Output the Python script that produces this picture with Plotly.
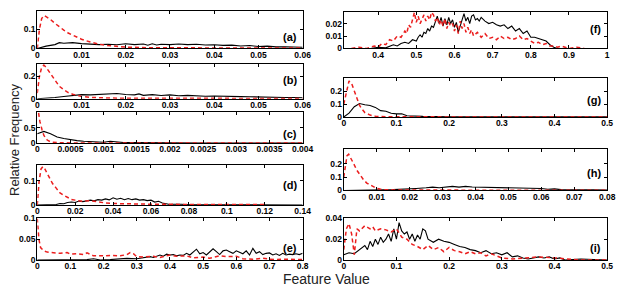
import plotly.graph_objects as go

# ---------------- data (x, relative frequency) ----------------
a_black = [(0,0),(0.002,0.012),(0.004,0.02),(0.005,0.03),(0.006,0.027),(0.008,0.03),(0.010,0.025),(0.012,0.022),
           (0.014,0.02),(0.016,0.022),(0.018,0.019),(0.020,0.024),(0.022,0.02),(0.024,0.023),(0.025,0.017),(0.026,0.024),
           (0.027,0.018),(0.028,0.022),(0.030,0.02),(0.032,0.023),(0.034,0.02),(0.036,0.022),(0.038,0.018),(0.040,0.019),
           (0.042,0.016),(0.044,0.017),(0.046,0.013),(0.048,0.015),(0.050,0.01),(0.052,0.012),(0.054,0.008),(0.056,0.009),
           (0.058,0.006),(0.060,0.006)]
a_red = [(0,0),(0.0005,0.10),(0.001,0.155),(0.0015,0.17),(0.002,0.165),(0.003,0.15),(0.004,0.13),(0.005,0.11),
         (0.006,0.095),(0.007,0.08),(0.008,0.068),(0.009,0.057),(0.010,0.048),(0.012,0.033),(0.014,0.022),(0.016,0.015),
         (0.018,0.010),(0.020,0.007),(0.025,0.004),(0.030,0.003),(0.040,0.002),(0.050,0.002),(0.060,0.002)]

b_black = [(0,0),(0.002,0.002),(0.004,0.01),(0.006,0.02),(0.008,0.026),(0.010,0.036),(0.012,0.034),(0.014,0.036),
           (0.016,0.042),(0.018,0.046),(0.020,0.038),(0.022,0.034),(0.023,0.043),(0.024,0.03),(0.026,0.036),(0.028,0.029),
           (0.030,0.034),(0.032,0.026),(0.034,0.03),(0.036,0.024),(0.038,0.022),(0.040,0.024),(0.042,0.02),(0.044,0.022),
           (0.046,0.018),(0.048,0.017),(0.050,0.014),(0.052,0.016),(0.054,0.012),(0.056,0.011),(0.058,0.01),(0.060,0.008)]
b_red = [(0,0.05),(0.0005,0.2),(0.001,0.28),(0.0015,0.3),(0.002,0.28),(0.003,0.22),(0.004,0.16),(0.005,0.11),
         (0.006,0.08),(0.007,0.055),(0.008,0.04),(0.009,0.03),(0.010,0.02),(0.012,0.012),(0.014,0.008),(0.016,0.006),
         (0.020,0.004),(0.030,0.003),(0.040,0.002),(0.050,0.002),(0.060,0.002)]

c_black = [(0,0.3),(0.0001,0.38),(0.0002,0.3),(0.0003,0.2),(0.0004,0.15),(0.0005,0.11),(0.0006,0.08),(0.0007,0.06),
           (0.0008,0.045),(0.0009,0.03),(0.001,0.03),(0.0011,0.06),(0.0012,0.04),(0.0013,0.02),(0.0015,0.015),
           (0.0017,0.01),(0.002,0.008),(0.0025,0.005),(0.003,0.003),(0.0035,0.002),(0.004,0.001)]
c_red = [(0.00002,0.98),(0.00004,0.7),(0.00007,0.45),(0.0001,0.25),(0.00015,0.1),(0.0002,0.04),(0.0003,0.015),
         (0.0004,0.008),(0.0006,0.004),(0.001,0.002),(0.002,0.001),(0.003,0),(0.004,0)]

d_black = [(0,0),(0.005,0),(0.010,0.002),(0.012,0.006),(0.014,0.005),(0.016,0.01),(0.018,0.012),(0.020,0.01),
           (0.022,0.016),(0.024,0.014),(0.026,0.018),(0.028,0.02),(0.030,0.017),(0.032,0.022),(0.034,0.02),(0.036,0.025),
           (0.038,0.021),(0.040,0.03),(0.042,0.024),(0.044,0.028),(0.046,0.022),(0.048,0.027),(0.050,0.022),(0.052,0.025),
           (0.054,0.02),(0.056,0.022),(0.058,0.018),(0.060,0.02),(0.062,0.012),(0.064,0.015),(0.066,0.008),(0.068,0.004),
           (0.070,0.002),(0.072,0.003),(0.074,0.004),(0.076,0.003),(0.078,0.002),(0.080,0.001),(0.090,0.0005),(0.100,0),(0.140,0)]
d_red = [(0,0),(0.001,0.1),(0.002,0.15),(0.003,0.16),(0.004,0.15),(0.006,0.12),(0.008,0.09),(0.010,0.07),(0.012,0.05),
         (0.014,0.04),(0.016,0.03),(0.018,0.023),(0.020,0.02),(0.024,0.015),(0.028,0.018),(0.032,0.012),(0.036,0.008),
         (0.040,0.006),(0.050,0.004),(0.060,0.003),(0.080,0.002),(0.100,0.002),(0.120,0.002)]

e_black = [(0,0),(0.10,0),(0.15,0.001),(0.17,0.003),(0.19,0),(0.22,0.001),(0.25,0.002),(0.27,0.004),(0.30,0.003),
           (0.32,0.005),(0.34,0.008),(0.35,0.006),(0.36,0.01),(0.37,0.012),(0.38,0.009),(0.39,0.014),(0.40,0.012),
           (0.41,0.013),(0.42,0.01),(0.43,0.012),(0.44,0.011),(0.45,0.016),(0.46,0.012),(0.47,0.018),(0.48,0.026),
           (0.49,0.015),(0.50,0.018),(0.51,0.012),(0.52,0.02),(0.53,0.027),(0.54,0.02),(0.55,0.013),(0.56,0.022),
           (0.57,0.024),(0.58,0.02),(0.59,0.016),(0.60,0.022),(0.61,0.018),(0.62,0.015),(0.63,0.022),(0.64,0.012),
           (0.65,0.028),(0.66,0.016),(0.67,0.02),(0.68,0.013),(0.69,0.016),(0.70,0.017),(0.71,0.012),(0.72,0.015),
           (0.73,0.011),(0.74,0.016),(0.75,0.012),(0.76,0.014),(0.77,0.013),(0.78,0.015),(0.79,0.013),(0.80,0.016)]
e_red = [(0,0.1),(0.005,0.05),(0.01,0.03),(0.02,0.022),(0.03,0.019),(0.05,0.018),(0.07,0.016),(0.09,0.018),(0.10,0.014),
         (0.12,0.015),(0.14,0.013),(0.15,0.017),(0.17,0.01),(0.20,0.01),(0.22,0.011),(0.25,0.01),(0.27,0.013),(0.28,0.018),
         (0.29,0.015),(0.30,0.008),(0.32,0.007),(0.35,0.009),(0.37,0.006),(0.40,0.012),(0.42,0.009),(0.45,0.01),
         (0.47,0.005),(0.50,0.007),(0.52,0.004),(0.55,0.01),(0.57,0.008),(0.60,0.009),(0.62,0.003),(0.65,0.002),
         (0.68,0.004),(0.70,0.002),(0.72,0.001),(0.75,0.002),(0.78,0.001),(0.80,0.001)]

f_black = [(0.38,0),(0.40,0.001),(0.42,0.0005),(0.43,0.002),(0.44,0.003),(0.45,0.002),(0.46,0.004),(0.47,0.005),
           (0.48,0.004),(0.49,0.007),(0.50,0.006),(0.505,0.009),(0.51,0.011),(0.515,0.009),(0.52,0.013),(0.525,0.012),
           (0.53,0.016),(0.535,0.014),(0.54,0.018),(0.545,0.017),(0.55,0.022),(0.555,0.026),(0.56,0.02),(0.565,0.025),
           (0.57,0.018),(0.575,0.024),(0.58,0.019),(0.585,0.025),(0.59,0.02),(0.595,0.023),(0.60,0.017),(0.605,0.021),
           (0.61,0.013),(0.615,0.019),(0.62,0.023),(0.625,0.028),(0.63,0.022),(0.635,0.025),(0.64,0.02),(0.645,0.026),
           (0.65,0.027),(0.655,0.023),(0.66,0.024),(0.665,0.022),(0.67,0.025),(0.68,0.022),(0.69,0.02),(0.70,0.021),
           (0.71,0.019),(0.72,0.018),(0.73,0.019),(0.74,0.016),(0.75,0.018),(0.76,0.014),(0.77,0.016),(0.78,0.012),
           (0.79,0.014),(0.80,0.009),(0.81,0.009),(0.82,0.008),(0.83,0.007),(0.84,0.006),(0.85,0.003),(0.86,0.001),
           (0.87,0),(0.90,0)]
f_red = [(0.33,0),(0.35,0.001),(0.37,0),(0.39,0.002),(0.40,0.001),(0.41,0.004),(0.42,0.003),(0.43,0.007),(0.44,0.006),
         (0.45,0.01),(0.46,0.009),(0.47,0.014),(0.475,0.012),(0.48,0.019),(0.485,0.017),(0.49,0.024),(0.495,0.029),
         (0.50,0.021),(0.505,0.026),(0.51,0.02),(0.515,0.024),(0.52,0.027),(0.525,0.022),(0.53,0.026),(0.535,0.023),
         (0.54,0.029),(0.545,0.027),(0.55,0.022),(0.555,0.025),(0.56,0.019),(0.565,0.023),(0.57,0.018),(0.575,0.024),
         (0.58,0.016),(0.585,0.021),(0.59,0.018),(0.595,0.02),(0.60,0.014),(0.605,0.019),(0.61,0.012),(0.615,0.022),
         (0.62,0.016),(0.625,0.02),(0.63,0.013),(0.635,0.017),(0.64,0.012),(0.645,0.015),(0.65,0.01),(0.66,0.013),
         (0.67,0.009),(0.68,0.012),(0.69,0.008),(0.70,0.009),(0.71,0.007),(0.72,0.01),(0.73,0.008),(0.74,0.009),
         (0.75,0.007),(0.76,0.008),(0.77,0.01),(0.78,0.007),(0.79,0.008),(0.80,0.006),(0.81,0.004),(0.82,0.005),
         (0.83,0.003),(0.84,0.004),(0.85,0.002),(0.86,0.002),(0.87,0.001),(0.88,0.002),(0.89,0.001),(0.90,0),
         (0.92,0.001),(0.94,0)]

g_black = [(0,0),(0.01,0.03),(0.02,0.08),(0.03,0.105),(0.04,0.095),(0.05,0.09),(0.06,0.075),(0.07,0.05),(0.08,0.045),
           (0.09,0.03),(0.10,0.025),(0.11,0.025),(0.12,0.01),(0.13,0.008),(0.15,0.005),(0.20,0.002),(0.30,0.001),(0.50,0.001)]
g_red = [(0,0.1),(0.005,0.2),(0.01,0.28),(0.015,0.26),(0.02,0.2),(0.025,0.14),(0.03,0.09),(0.035,0.06),(0.04,0.035),
         (0.05,0.015),(0.06,0.006),(0.08,0.003),(0.10,0.002),(0.20,0.001),(0.50,0.001)]

h_black = [(0,0),(0.010,0),(0.012,0.004),(0.015,0.006),(0.018,0.008),(0.020,0.012),(0.022,0.015),(0.025,0.02),
           (0.027,0.025),(0.029,0.02),(0.031,0.027),(0.033,0.03),(0.035,0.025),(0.037,0.03),(0.039,0.026),(0.041,0.025),
           (0.043,0.022),(0.045,0.023),(0.048,0.018),(0.050,0.019),(0.053,0.016),(0.056,0.015),(0.058,0.012),(0.060,0.014),
           (0.062,0.009),(0.064,0.012),(0.066,0.006),(0.068,0.007),(0.070,0.004),(0.073,0.005),(0.076,0.004),(0.080,0.003)]
h_red = [(0,0.1),(0.0005,0.2),(0.001,0.26),(0.0015,0.27),(0.002,0.25),(0.003,0.2),(0.004,0.15),(0.005,0.11),
         (0.006,0.08),(0.007,0.055),(0.008,0.04),(0.009,0.025),(0.010,0.015),(0.011,0.01),(0.012,0.006),(0.015,0.004),
         (0.020,0.003),(0.040,0.002),(0.080,0.002)]

i_black = [(0,0.005),(0.01,0.007),(0.02,0.006),(0.03,0.01),(0.04,0.014),(0.045,0.01),(0.05,0.018),(0.055,0.013),
           (0.06,0.02),(0.065,0.015),(0.07,0.022),(0.075,0.017),(0.08,0.02),(0.085,0.025),(0.09,0.018),(0.095,0.03),
           (0.10,0.02),(0.105,0.036),(0.11,0.028),(0.115,0.025),(0.12,0.027),(0.125,0.02),(0.13,0.025),(0.135,0.018),
           (0.14,0.024),(0.145,0.02),(0.15,0.03),(0.155,0.028),(0.16,0.02),(0.17,0.017),(0.18,0.02),(0.19,0.018),
           (0.20,0.017),(0.21,0.015),(0.22,0.013),(0.23,0.012),(0.24,0.01),(0.25,0.009),(0.26,0.007),(0.27,0.009),
           (0.28,0.006),(0.29,0.007),(0.30,0.005),(0.31,0.007),(0.32,0.003),(0.33,0.004),(0.34,0.002),(0.35,0.001),
           (0.36,0.002),(0.37,0.003),(0.38,0.002),(0.39,0.003),(0.40,0.001),(0.41,0.002),(0.42,0),(0.45,0.001),(0.50,0)]
i_red = [(0,0.01),(0.005,0.03),(0.01,0.035),(0.015,0.025),(0.02,0.005),(0.025,0.03),(0.03,0.028),(0.04,0.033),
         (0.05,0.03),(0.055,0.032),(0.06,0.028),(0.07,0.03),(0.08,0.029),(0.09,0.027),(0.10,0.03),(0.11,0.022),
         (0.12,0.02),(0.13,0.015),(0.14,0.013),(0.15,0.01),(0.16,0.014),(0.17,0.01),(0.18,0.012),(0.19,0.008),
         (0.20,0.012),(0.21,0.009),(0.22,0.008),(0.23,0.006),(0.24,0.008),(0.25,0.006),(0.26,0.007),(0.27,0.004),
         (0.28,0.006),(0.29,0.004),(0.30,0.002),(0.32,0.001),(0.35,0.002),(0.37,0.003),(0.40,0.002),(0.42,0.001),
         (0.45,0),(0.50,0)]

panel_names = ["(a)", "(b)", "(c)", "(d)", "(e)", "(f)", "(g)", "(h)", "(i)"]
x_ranges = [[0, 0.06], [0, 0.06], [0, 0.004], [0, 0.14], [0, 0.8], [0.31, 1], [0, 0.5], [0, 0.08], [0, 0.5]]
y_ranges = [[0, 0.195], [0, 0.31], [0, 1.0], [0, 0.165], [0, 0.1], [0, 0.0295], [0, 0.3], [0, 0.31], [0, 0.04]]
x_ticks = [
    ["0", "0.01", "0.02", "0.03", "0.04", "0.05", "0.06"],
    ["0", "0.01", "0.02", "0.03", "0.04", "0.05", "0.06"],
    ["0", "0.0005", "0.001", "0.0015", "0.002", "0.0025", "0.003", "0.0035", "0.004"],
    ["0", "0.02", "0.04", "0.06", "0.08", "0.1", "0.12", "0.14"],
    ["0", "0.1", "0.2", "0.3", "0.4", "0.5", "0.6", "0.7", "0.8"],
    ["0.4", "0.5", "0.6", "0.7", "0.8", "0.9", "1"],
    ["0", "0.1", "0.2", "0.3", "0.4", "0.5"],
    ["0", "0.01", "0.02", "0.03", "0.04", "0.05", "0.06", "0.07", "0.08"],
    ["0", "0.1", "0.2", "0.3", "0.4", "0.5"],
]
y_ticks = [
    ["0", "0.1"], ["0", "0.2"], ["0", "0.5"], ["0", "0.1"], ["0", "0.05", "0.1"],
    ["0", "0.01", "0.02"], ["0", "0.1", "0.2"], ["0", "0.1", "0.2"], ["0", "0.02", "0.04"],
]
series_black = [a_black, b_black, c_black, d_black, e_black, f_black, g_black, h_black, i_black]
series_red = [a_red, b_red, c_red, d_red, e_red, f_red, g_red, h_red, i_red]

# ---------------- layout geometry (pixels) ----------------
W, H = 626, 293
left_col = (36, 307)
right_col = (349, 618)
boxes_y = [(6, 45), (61, 97), (111, 143), (166, 207), (221, 264),
           (7, 45), (76, 116), (149, 192), (221, 264)]
label_frac = [0.70, 0.46, 0.72, 0.49, 0.70, 0.47, 0.57, 0.57, 0.71]

fig = go.Figure()
tickfont = dict(family="Liberation Sans, Arial, sans-serif", size=8.5, color="black", weight="bold")

for k in range(9):
    n = k + 1
    xs = "x" if n == 1 else f"x{n}"
    ys = "y" if n == 1 else f"y{n}"
    blk = series_black[k]
    red = series_red[k]
    fig.add_trace(go.Scatter(x=[p[0] for p in blk], y=[p[1] for p in blk], mode="lines",
                             line=dict(color="black", width=1.1), xaxis=xs, yaxis=ys, showlegend=False))
    fig.add_trace(go.Scatter(x=[p[0] for p in red], y=[p[1] for p in red], mode="lines",
                             line=dict(color="rgb(235,30,30)", width=1.5, dash="4px,3px"),
                             xaxis=xs, yaxis=ys, showlegend=False))
    col = left_col if k < 5 else right_col
    top, bot = boxes_y[k]
    xdom = [col[0] / W, col[1] / W]
    ydom = [1 - bot / H, 1 - top / H]
    xt = x_ticks[k]
    yt = y_ticks[k]
    axcommon = dict(showgrid=False, zeroline=False, showline=True, linecolor="black", linewidth=1,
                    mirror="ticks", ticks="inside", ticklen=3, tickcolor="black", tickwidth=1,
                    tickfont=tickfont)
    fig.layout[("xaxis" if n == 1 else f"xaxis{n}")] = dict(
        domain=xdom, range=x_ranges[k], anchor=ys, ticklabelstandoff=-2,
        tickvals=[float(t) for t in xt], ticktext=xt, **axcommon)
    fig.layout[("yaxis" if n == 1 else f"yaxis{n}")] = dict(
        domain=ydom, range=y_ranges[k], anchor=xs, ticklabelstandoff=-1,
        tickvals=[float(t) for t in yt], ticktext=yt, **axcommon)
    fig.add_annotation(x=(col[1] - 4) / W, y=1 - (top + label_frac[k] * (bot - top)) / H,
                       xref="paper", yref="paper", xanchor="right", yanchor="middle",
                       text=panel_names[k], showarrow=False,
                       font=dict(family="Liberation Sans, Arial, sans-serif", size=11, color="black", weight="bold"))

fig.add_annotation(x=12 / W, y=1 - 140 / H, xref="paper", yref="paper", text="Relative Frequency",
                   textangle=-90, showarrow=False, xanchor="center", yanchor="middle",
                   font=dict(family="Liberation Sans, Arial, sans-serif", size=13, color="#222222"))
fig.add_annotation(x=331 / W, y=1 - 284 / H, xref="paper", yref="paper", text="Feature Value",
                   showarrow=False, xanchor="center", yanchor="middle", borderpad=0,
                   font=dict(family="Liberation Sans, Arial, sans-serif", size=14, color="#222222"))

fig.update_layout(width=W, height=H, margin=dict(l=0, r=0, t=0, b=0),
                  paper_bgcolor="white", plot_bgcolor="white")
fig.write_html("out.html")
